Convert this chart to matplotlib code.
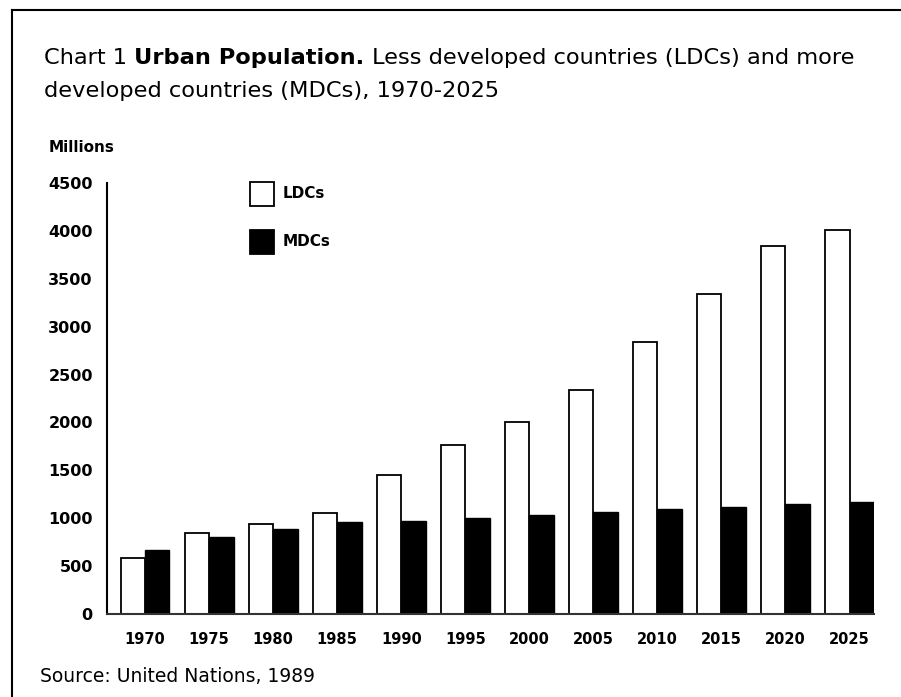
import matplotlib
matplotlib.use("Agg")
import matplotlib.pyplot as plt
import numpy as np
from matplotlib.lines import Line2D
from matplotlib.patches import Rectangle

# urban population, millions
years = ["1970", "1975", "1980", "1985", "1990", "1995",
         "2000", "2005", "2010", "2015", "2020", "2025"]
ldcs = [580, 850, 940, 1050, 1450, 1760, 2000, 2340, 2840, 3340, 3840, 4010]
mdcs = [670, 800, 890, 960, 970, 1005, 1030, 1060, 1100, 1120, 1145, 1170]
yticks = [0, 500, 1000, 1500, 2000, 2500, 3000, 3500, 4000, 4500]
series = ["LDCs", "MDCs"]

plt.rcParams["font.family"] = "DejaVu Sans"

W, H = 901, 697
fig = plt.figure(figsize=(W / 100, H / 100), dpi=100)
ax = fig.add_axes([106.7 / W, 1 - 614 / H, (874 - 106.7) / W, 431 / H])

x = np.arange(len(years))
w = 0.382
b1 = ax.bar(x, ldcs, width=-w, align="edge", color="white",
            edgecolor="black", linewidth=1.3)
b2 = ax.bar(x, mdcs, width=w, align="edge", color="black",
            edgecolor="black", linewidth=1.0)

ax.set_xlim(-0.598, len(years) - 1 + w)
ax.set_ylim(0, 4500)
ax.set_xticks(x)
ax.set_xticklabels(years, fontsize=10.5, fontweight="bold")
ax.set_yticks(yticks)
ax.set_yticklabels([str(t) for t in yticks], fontsize=11.5, fontweight="bold")
ax.tick_params(axis="both", length=0)
ax.tick_params(axis="y", pad=10)
ax.tick_params(axis="x", pad=13)
for s in ["top", "right"]:
    ax.spines[s].set_visible(False)
ax.spines["left"].set_linewidth(1.5)
ax.spines["bottom"].set_linewidth(1.5)
ax.spines["bottom"].set_color("#333333")

# legend: two squares with labels, placed in figure pixels
for i, (name, bars) in enumerate(zip(series, [b1, b2])):
    top = 182 + 48 * i
    fig.add_artist(Rectangle((250 / W, 1 - (top + 24) / H), 24 / W, 24 / H,
                             facecolor=bars[0].get_facecolor(),
                             edgecolor="black", linewidth=1.3,
                             transform=fig.transFigure))
    fig.text(283 / W, 1 - (top + 12) / H, name, fontsize=11,
             fontweight="bold", va="center", ha="left")

fig.text(49 / W, 1 - 148 / H, "Millions", fontsize=11, fontweight="bold",
         va="center", ha="left")

# title with bold run in the middle
renderer = fig.canvas.get_renderer()
fs = 16.2
space = 0.318 * fs * 100 / 72
y1 = 1 - 64.5 / H
t = fig.text(44 / W, y1, "Chart 1", fontsize=fs, va="baseline")
x_px = t.get_window_extent(renderer).x1 + space
t = fig.text(x_px / W, y1, "Urban Population.", fontsize=fs,
             fontweight="bold", va="baseline")
x_px = t.get_window_extent(renderer).x1 + space
fig.text(x_px / W, y1, "Less developed countries (LDCs) and more",
         fontsize=fs, va="baseline")
fig.text(44 / W, 1 - 97 / H, "developed countries (MDCs), 1970-2025",
         fontsize=fs, va="baseline")

fig.text(40 / W, 1 - 682 / H, "Source: United Nations, 1989", fontsize=13.5,
         va="baseline")

# frame lines on top and left edges
fig.add_artist(Line2D([12 / W, 12 / W], [0, 1 - 10 / H], color="black",
                      linewidth=1.5, transform=fig.transFigure))
fig.add_artist(Line2D([12 / W, 1], [1 - 10 / H, 1 - 10 / H], color="black",
                      linewidth=1.5, transform=fig.transFigure))

fig.savefig("out.png", dpi=100)
